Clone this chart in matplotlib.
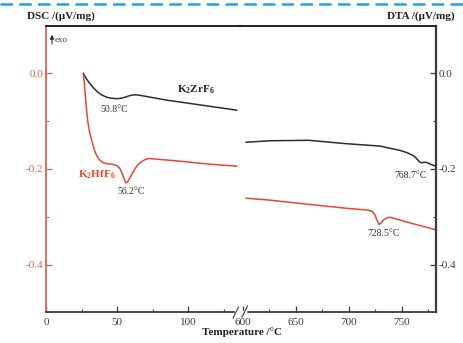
import matplotlib
matplotlib.use('Agg')
import matplotlib.pyplot as plt
from matplotlib.lines import Line2D
from matplotlib.patches import FancyArrowPatch
from matplotlib.ticker import FixedLocator, FormatStrFormatter

plt.rcParams['font.family'] = ['Liberation Serif', 'DejaVu Serif']
plt.rcParams['axes.unicode_minus'] = False
plt.rcParams['mathtext.fontset'] = 'custom'
plt.rcParams['mathtext.rm'] = 'Liberation Serif'
plt.rcParams['mathtext.bf'] = 'Liberation Serif:bold'

# ---- data (temperature in degC, signal in uV/mg) ----
zr_low_T = [26.3, 28.0, 30.0, 33.0, 35.7, 38.5, 42.7, 46.0, 49.8, 53.0, 55.6, 58.5,
            61.5, 64.0, 66.2, 70.0, 85.0, 108.5, 134.3]
zr_low_v = [0.000, -0.009, -0.018, -0.029, -0.037, -0.044, -0.050, -0.052, -0.053,
            -0.052, -0.050, -0.047, -0.045, -0.045, -0.046, -0.048, -0.056, -0.066, -0.077]

hf_low_T = [26.3, 27.0, 27.8, 28.5, 29.3, 30.5, 32.2, 34.0, 35.7, 38.0, 40.4, 43.0,
            46.3, 49.8, 51.8, 53.5, 55.0, 56.2, 57.5, 59.0, 61.0, 63.0, 65.0, 67.5,
            70.0, 72.5, 80.0, 92.0, 115.5, 134.3]
hf_low_v = [-0.002, -0.020, -0.050, -0.075, -0.098, -0.120, -0.140, -0.160, -0.172,
            -0.182, -0.187, -0.189, -0.190, -0.193, -0.198, -0.208, -0.221, -0.229,
            -0.227, -0.219, -0.208, -0.198, -0.190, -0.184, -0.180, -0.178, -0.180,
            -0.183, -0.190, -0.194]

zr_high_T = [603, 625, 662, 697, 729, 748, 755, 759, 762, 764.5, 766.5, 768.7, 771,
             773, 775, 778, 782]
zr_high_v = [-0.144, -0.141, -0.140, -0.147, -0.152, -0.161, -0.166, -0.170, -0.174,
             -0.180, -0.185, -0.187, -0.186, -0.186, -0.188, -0.191, -0.194]

hf_high_T = [603, 625, 654, 697, 718, 722, 724.5, 726.5, 728.5, 730.5, 733, 736, 739,
             758, 782]
hf_high_v = [-0.261, -0.265, -0.272, -0.282, -0.286, -0.289, -0.296, -0.308, -0.316,
             -0.312, -0.306, -0.302, -0.301, -0.313, -0.327]

dsc_ticks = [0.0, -0.2, -0.4]
dta_ticks = [0.0, -0.2, -0.4]
low_ticks = [0, 50, 100]
high_ticks = [600, 650, 700, 750]

RED = '#e8472f'
RED_AX = '#e06450'
BLK = '#2e2e2e'
GRY = '#3a3a3a'

W, H = 464, 343
fig = plt.figure(figsize=(W / 100, H / 100), dpi=100)


def fx(px):
    return px / W


def fy(py):
    return 1 - py / H


bottom = fy(312)
top = fy(26)
ax1 = fig.add_axes([fx(46), bottom, fx(240) - fx(46), top - bottom])
ax2 = fig.add_axes([fx(240), bottom, fx(436) - fx(240), top - bottom])

ax1.set_xlim(0, 136.6)
ax2.set_xlim(597.2, 782.1)
for ax in (ax1, ax2):
    ax.set_ylim(-0.499, 0.099)
    ax.patch.set_alpha(0)

ax1.plot(zr_low_T, zr_low_v, color=BLK, lw=1.1, solid_joinstyle='round')
ax1.plot(hf_low_T, hf_low_v, color=RED, lw=1.1, solid_joinstyle='round')
ax2.plot(zr_high_T, zr_high_v, color=BLK, lw=1.1, solid_joinstyle='round')
ax2.plot(hf_high_T, hf_high_v, color=RED, lw=1.1, solid_joinstyle='round')

# spines
ax1.spines['right'].set_visible(False)
ax2.spines['left'].set_visible(False)
ax1.spines['left'].set_color(RED_AX)
ax1.spines['left'].set_linewidth(1.3)
ax2.spines['right'].set_color(GRY)
ax2.spines['right'].set_linewidth(1.6)
for ax in (ax1, ax2):
    ax.spines['top'].set_color('#111111')
    ax.spines['top'].set_linewidth(1.3)
    ax.spines['bottom'].set_color(GRY)
    ax.spines['bottom'].set_linewidth(1.3)

# ticks
ax1.xaxis.set_major_locator(FixedLocator(low_ticks))
ax1.xaxis.set_minor_locator(FixedLocator([25, 75, 125]))
ax2.xaxis.set_major_locator(FixedLocator(high_ticks))
ax2.xaxis.set_minor_locator(FixedLocator([625, 675, 725, 775]))
ax1.yaxis.set_major_locator(FixedLocator(dsc_ticks))
ax1.yaxis.set_minor_locator(FixedLocator([-0.1, -0.3]))
ax2.yaxis.set_major_locator(FixedLocator(dta_ticks))
ax2.yaxis.set_minor_locator(FixedLocator([-0.1, -0.3]))
ax1.yaxis.set_major_formatter(FormatStrFormatter('%.1f'))
ax2.yaxis.set_major_formatter(FormatStrFormatter('%.1f'))

ax2.yaxis.tick_right()
for ax in (ax1, ax2):
    ax.tick_params(axis='x', which='both', direction='in', top=False, colors=GRY,
                   labelsize=8, pad=4)
    ax.tick_params(axis='x', which='major', length=4, width=0.9)
    ax.tick_params(axis='x', which='minor', length=2.5, width=0.8)
ax1.tick_params(axis='y', which='both', direction='in', right=False, colors=RED_AX,
                labelsize=8, pad=2)
ax1.tick_params(axis='y', which='major', length=4, width=0.9)
ax1.tick_params(axis='y', which='minor', length=2.5, width=0.8)
ax2.tick_params(axis='y', which='both', direction='in', left=False, colors=GRY,
                labelsize=8, pad=2)
ax2.tick_params(axis='y', which='major', length=4, width=0.9)
ax2.tick_params(axis='y', which='minor', length=2.5, width=0.8)

# texts
fig.text(fx(27), fy(16), 'DSC /(\u03bcV/mg)', fontsize=8, fontweight='bold',
         color='#222222', ha='left', va='center')
fig.text(fx(455), fy(16), 'DTA /(\u03bcV/mg)', fontsize=8, fontweight='bold',
         color='#222222', ha='right', va='center')
fig.text(fx(242), fy(332), 'Temperature /\u00b0C', fontsize=8, fontweight='bold',
         color='#222222', ha='center', va='center')

fig.add_artist(FancyArrowPatch((fx(52), fy(47)), (fx(52), fy(32)),
                               transform=fig.transFigure, arrowstyle='-|>',
                               mutation_scale=6, color='#222222', lw=0.7))
fig.text(fx(55), fy(40), 'exo', fontsize=6.5, color='#444444', ha='left', va='center')

fig.text(fx(114), fy(110), '50.8\u00b0C', fontsize=7, color='#333333', ha='center', va='center')
fig.text(fx(131), fy(192), '56.2\u00b0C', fontsize=7, color='#333333', ha='center', va='center')
fig.text(fx(411), fy(175), '768.7\u00b0C', fontsize=7, color='#333333', ha='center', va='center')
fig.text(fx(384), fy(233), '728.5\u00b0C', fontsize=7, color='#333333', ha='center', va='center')
fig.text(fx(196), fy(90), r'$\mathbf{K_{2}ZrF_{6}}$', fontsize=8, color='#222222',
         ha='center', va='center')
fig.text(fx(97), fy(175), r'$\mathbf{K_{2}HfF_{6}}$', fontsize=8, color=RED,
         ha='center', va='center')

# axis break marks
fig.add_artist(Line2D([fx(236), fx(245)], [fy(312), fy(312)], color='white', lw=2.5,
                      transform=fig.transFigure))
fig.add_artist(Line2D([fx(233), fx(238.5)], [fy(318), fy(307)], color=GRY, lw=0.8,
                      transform=fig.transFigure))
fig.add_artist(Line2D([fx(242), fx(247.5)], [fy(317), fy(306)], color=GRY, lw=0.8,
                      transform=fig.transFigure))

# decorative dashed line at top
fig.add_artist(Line2D([0, 1], [fy(4), fy(4)], color='#1fa3e6', lw=1.8,
                      linestyle=(0, (5, 2.5)), transform=fig.transFigure))

fig.savefig('out.png', dpi=100)
